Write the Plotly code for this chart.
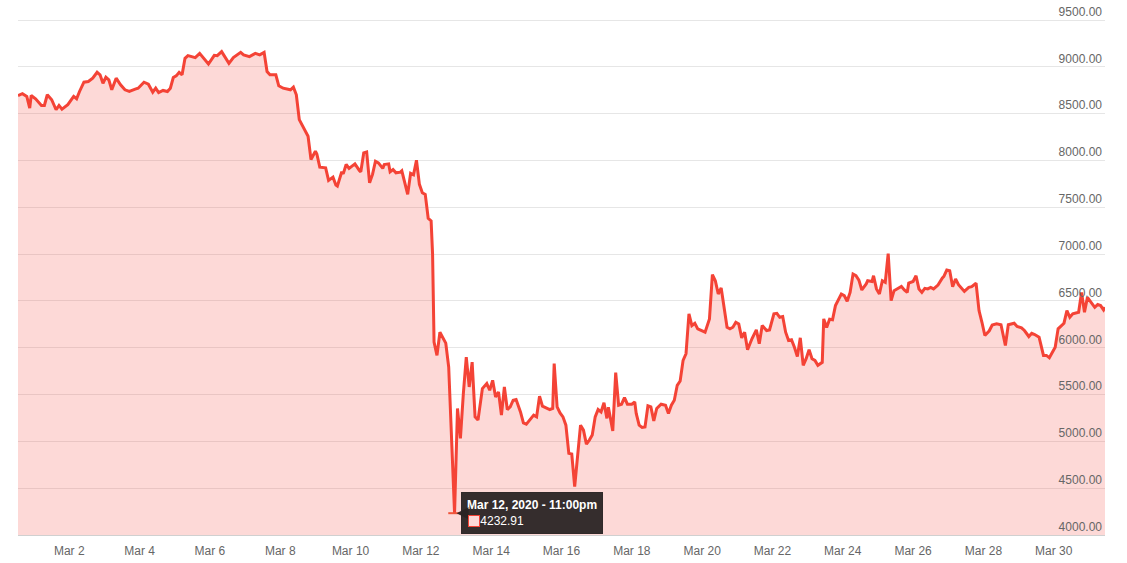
import pandas as pd
import plotly.graph_objects as go

# hours offset from 2020-03-01 00:00 and BTC price
hours = [
    -11, -8, -5, -3, -2, 1, 5, 7,
    9, 12, 15, 17, 19, 23, 27, 29,
    31, 34, 37, 40, 43, 45, 47, 49,
    51, 53, 56, 59, 62, 65, 69, 71,
    75, 78, 81, 83, 85, 88, 91, 93,
    95, 97, 99, 101, 103, 105, 110, 113,
    119, 123, 125, 128, 133, 136, 141, 143,
    147, 151, 154, 157, 159, 161, 165, 167,
    170, 173, 175, 177, 179, 181, 184, 187,
    189, 192, 193, 195, 199, 201, 204, 206,
    207, 210, 211, 213, 215, 219, 222, 223,
    225, 227, 229, 231, 233, 235, 238, 239,
    242, 243, 245, 247, 250, 251, 255, 257,
    259, 261, 263, 265, 267, 269, 271, 272,
    273, 275, 277, 279, 281, 283, 285, 287,
    289, 291, 293, 295, 297, 299, 301, 303,
    306, 309, 311, 313, 315, 317, 319, 321,
    323, 325, 327, 329, 332, 334, 336, 338,
    341, 343, 345, 347, 350, 352, 354, 355,
    357, 359, 361, 363, 365, 367, 369, 371,
    373, 375, 377, 379, 381, 383, 385, 387,
    389, 391, 392, 395, 397, 399, 401, 403,
    405, 408, 410, 411, 413, 415, 417, 419,
    421, 423, 425, 428, 431, 433, 435, 437,
    439, 441, 443, 445, 447, 449, 451, 453,
    456, 458, 461, 463, 465, 467, 469, 473,
    475, 477, 479, 481, 483, 485, 487, 490,
    493, 495, 497, 500, 502, 505, 507, 509,
    511, 513, 515, 517, 519, 521, 523, 525,
    527, 529, 531, 533, 535, 538, 539, 541,
    543, 545, 547, 549, 551, 553, 555, 557,
    559, 561, 563, 565, 568, 569, 572, 573,
    575, 577, 579, 581, 583, 585, 587, 589,
    592, 594, 596, 597, 600, 602, 604, 606,
    608, 610, 612, 614, 617, 620, 621, 623,
    625, 627, 629, 631, 633, 635, 638, 640,
    643, 645, 647, 649, 652, 654, 657, 660,
    663, 665, 669, 671, 674, 676, 679, 681,
    683, 686, 689, 691, 693, 695, 697, 699,
    702, 703, 705, 707, 709, 711, 713, 715,
    717, 719, 722, 724, 726, 728, 730, 731,
]

prices = [
    8694, 8713, 8684, 8559, 8694, 8659, 8588, 8588,
    8702, 8649, 8542, 8588, 8549, 8596, 8684, 8659,
    8737, 8836, 8843, 8879, 8942, 8915, 8825, 8889,
    8862, 8755, 8879, 8808, 8755, 8737, 8762, 8772,
    8836, 8815, 8730, 8772, 8726, 8748, 8737, 8772,
    8886, 8904, 8942, 8915, 9091, 9120, 9099, 9144,
    9030, 9123, 9120, 9163, 9038, 9099, 9155, 9128,
    9109, 9144, 9128, 9155, 8950, 8915, 8915, 8798,
    8772, 8766, 8755, 8783, 8702, 8436, 8340, 8258,
    8011, 8099, 8070, 7929, 7921, 7787, 7822, 7737,
    7726, 7879, 7857, 7957, 7915, 7964, 7894, 7879,
    8081, 8091, 7762, 7851, 7992, 7974, 7915, 7957,
    7964, 7879, 7904, 7868, 7875, 7889, 7638, 7863,
    7847, 8003, 7745, 7655, 7638, 7383, 7354, 7000,
    6060, 5918, 6166, 6113, 6049, 5794, 5014, 4232.91,
    5351, 5032, 5511, 5900, 5581, 5847, 5262, 5227,
    5564, 5617, 5546, 5652, 5474, 5528, 5280, 5581,
    5340, 5368, 5439, 5447, 5315, 5198, 5184, 5227,
    5280, 5262, 5482, 5376, 5351, 5340, 5351, 5830,
    5368, 5304, 5262, 5173, 4872, 4865, 4517, 4836,
    5173, 5120, 4971, 5014, 5067, 5262, 5340, 5315,
    5413, 5245, 5365, 5112, 5735, 5386, 5397, 5468,
    5397, 5397, 5421, 5298, 5173, 5149, 5155, 5379,
    5368, 5219, 5351, 5397, 5386, 5298, 5386, 5439,
    5599, 5645, 5865, 5936, 6362, 6237, 6262, 6202,
    6177, 6166, 6308, 6780, 6716, 6574, 6638, 6219,
    6202, 6219, 6272, 6255, 6106, 6166, 5979, 6096,
    6191, 6042, 6237, 6184, 6191, 6362, 6368, 6325,
    6333, 6166, 6078, 6085, 6006, 5907, 6106, 5812,
    5883, 5979, 5883, 5865, 5812, 5844, 6308, 6216,
    6304, 6298, 6450, 6508, 6574, 6556, 6496, 6591,
    6787, 6769, 6723, 6617, 6681, 6716, 6708, 6769,
    6628, 6574, 6716, 6698, 7006, 6503, 6610, 6628,
    6655, 6617, 6591, 6691, 6708, 6769, 6628, 6591,
    6634, 6628, 6645, 6628, 6670, 6745, 6762, 6830,
    6822, 6652, 6734, 6673, 6638, 6602, 6645, 6652,
    6689, 6397, 6272, 6131, 6181, 6243, 6255, 6245,
    6024, 6245, 6262, 6227, 6213, 6184, 6120, 6155,
    6141, 6113, 5918, 5918, 5894, 5953, 6006, 6202,
    6255, 6262, 6397, 6325, 6362, 6372, 6379, 6591,
    6379, 6538, 6474, 6432, 6461, 6450, 6404, 6432,
]

assert len(hours) == len(prices), (len(hours), len(prices))

base = pd.Timestamp("2020-03-01 00:00")
times = [base + pd.Timedelta(hours=h) for h in hours]

LINE = "#f44336"
FILL = "rgba(244,67,54,0.2)"
GRID = "#e6e6e6"
TXT = "#666666"
FONT = "Liberation Sans, Arial, sans-serif"
TIPBG = "rgba(42,36,36,0.95)"

fig = go.Figure()
fig.add_trace(go.Scatter(
    x=times, y=prices, mode="lines",
    line=dict(color=LINE, width=3),
    fill="tozeroy", fillcolor=FILL,
    hoverinfo="skip", showlegend=False,
))

# highlighted (hovered) point: the minimum
imin = min(range(len(prices)), key=lambda i: prices[i])
tmin, vmin = times[imin], prices[imin]
fig.add_trace(go.Scatter(
    x=[tmin], y=[vmin], mode="markers",
    marker=dict(symbol="line-ew-open", size=9, line=dict(color=LINE, width=2)),
    hoverinfo="skip", showlegend=False,
))

hr = tmin.hour % 12 or 12
ampm = "am" if tmin.hour < 12 else "pm"
label = f"{tmin.strftime('%b')} {tmin.day}, {tmin.year} - {hr}:{tmin.strftime('%M')}{ampm}"

nb = "\u00a0"
fig.add_annotation(
    x=tmin, y=vmin, xref="x", yref="y",
    ax=6, ay=0, axref="pixel", ayref="pixel",
    xanchor="left", yanchor="middle", align="left",
    text=f"<b>{label}</b><br>{nb * 4}{vmin:.2f}",
    font=dict(family=FONT, size=12, color="white"),
    bgcolor=TIPBG, bordercolor=TIPBG,
    borderpad=5, showarrow=True, arrowhead=2, arrowsize=1.2, arrowwidth=2,
    arrowcolor=TIPBG, standoff=2,
)
# colour swatch inside the tooltip
fig.add_annotation(
    x=tmin, y=vmin, xref="x", yref="y", showarrow=False,
    text="", width=10, height=10, xshift=19, yshift=-8,
    bgcolor="#fcd9d8", bordercolor=LINE, borderwidth=1, borderpad=0,
)

fig.update_layout(
    width=1127, height=563,
    margin=dict(l=18, r=22, t=3, b=28),
    paper_bgcolor="white", plot_bgcolor="white",
    font=dict(family=FONT, size=12, color=TXT),
    hovermode=False,
    xaxis=dict(
        range=[times[0], times[-1]],
        tick0="2020-03-02", dtick=2 * 86400000, tickformat="%b %-d",
        showgrid=False, zeroline=False,
        showline=True, linecolor="#d0d0d0", linewidth=1,
        ticks="", tickfont=dict(size=12, color=TXT),
        ticklabelstandoff=5,
    ),
    yaxis=dict(
        side="right", range=[4000, 9682], dtick=500, tick0=4000,
        tickformat=".2f", ticklabelposition="inside top",
        showgrid=True, gridcolor=GRID, gridwidth=1,
        zeroline=False, showline=False, ticks="",
        tickfont=dict(size=12, color=TXT),
    ),
    yaxis2=dict(
        overlaying="y", side="right", anchor="free", position=1, shift=10,
        range=[4000, 9682], dtick=500, tick0=4000,
        ticks="outside", ticklen=12, tickcolor=GRID, tickwidth=1,
        showgrid=False, showticklabels=False, showline=False, zeroline=False,
    ),
)

fig.write_html("out.html", config={"displayModeBar": False},
               post_script="document.body.style.margin='0';")
